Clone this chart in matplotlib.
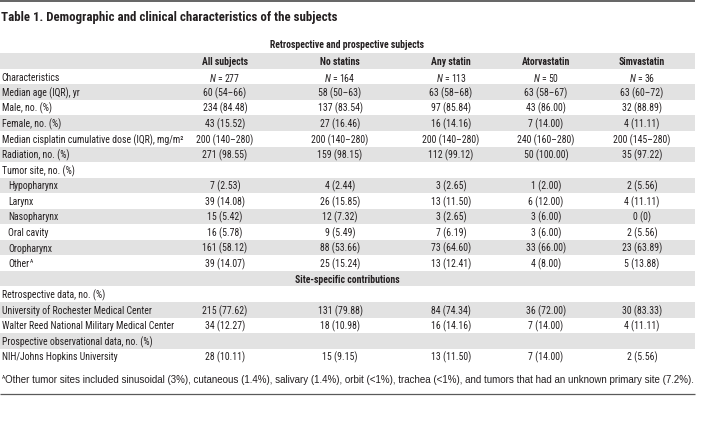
import matplotlib
matplotlib.use("Agg")
import matplotlib.pyplot as plt
from matplotlib import font_manager

# look for a condensed face; the table uses a narrow sans
entries = font_manager.fontManager.ttflist
names = {f.name for f in entries}
body_font, body_stretch, narrow = "Liberation Sans", "normal", False
for want in ["Liberation Sans Narrow", "Roboto Condensed", "Open Sans Condensed",
             "Noto Sans Condensed", "Arial Narrow", "DejaVu Sans Condensed"]:
    if want in names:
        body_font, narrow = want, True
        break
if not narrow:
    for f in entries:
        if f.name in ("Noto Sans", "Roboto", "Open Sans", "DejaVu Sans") and \
                f.stretch in ("condensed", "semi-condensed"):
            body_font, body_stretch, narrow = f.name, f.stretch, True
            break

body_size = 7.0 if narrow else 6.3
plt.rcParams["font.family"] = [body_font, "DejaVu Sans"]
plt.rcParams["font.stretch"] = body_stretch
plt.rcParams["mathtext.fontset"] = "custom"
plt.rcParams["mathtext.it"] = body_font + ":italic"
plt.rcParams["mathtext.rm"] = body_font

######## data ########
title = "Table 1. Demographic and clinical characteristics of the subjects"
group_header = "Retrospective and prospective subjects"
section_header = "Site-specific contributions"
columns = ["All subjects", "No statins", "Any statin", "Atorvastatin", "Simvastatin"]
n_values = [277, 164, 113, 50, 36]

row_labels = [
    "Characteristics",
    "Median age (IQR), yr",
    "Male, no. (%)",
    "Female, no. (%)",
    "Median cisplatin cumulative dose (IQR), mg/m\u00b2",
    "Radiation, no. (%)",
    "Tumor site, no. (%)",
    "Hypopharynx",
    "Larynx",
    "Nasopharynx",
    "Oral cavity",
    "Oropharynx",
    "Other",
    None,  # section header row
    "Retrospective data, no. (%)",
    "University of Rochester Medical Center",
    "Walter Reed National Military Medical Center",
    "Prospective observational data, no. (%)",
    "NIH/Johns Hopkins University",
]
indented = ["Hypopharynx", "Larynx", "Nasopharynx", "Oral cavity", "Oropharynx", "Other"]

median_age = ["60 (54\u201366)", "58 (50\u201363)", "63 (58\u201368)", "63 (58\u201367)", "63 (60\u201372)"]
male = ["234 (84.48)", "137 (83.54)", "97 (85.84)", "43 (86.00)", "32 (88.89)"]
female = ["43 (15.52)", "27 (16.46)", "16 (14.16)", "7 (14.00)", "4 (11.11)"]
cisplatin = ["200 (140\u2013280)", "200 (140\u2013280)", "200 (140\u2013280)", "240 (160\u2013280)", "200 (145\u2013280)"]
radiation = ["271 (98.55)", "159 (98.15)", "112 (99.12)", "50 (100.00)", "35 (97.22)"]
hypopharynx = ["7 (2.53)", "4 (2.44)", "3 (2.65)", "1 (2.00)", "2 (5.56)"]
larynx = ["39 (14.08)", "26 (15.85)", "13 (11.50)", "6 (12.00)", "4 (11.11)"]
nasopharynx = ["15 (5.42)", "12 (7.32)", "3 (2.65)", "3 (6.00)", "0 (0)"]
oral_cavity = ["16 (5.78)", "9 (5.49)", "7 (6.19)", "3 (6.00)", "2 (5.56)"]
oropharynx = ["161 (58.12)", "88 (53.66)", "73 (64.60)", "33 (66.00)", "23 (63.89)"]
other = ["39 (14.07)", "25 (15.24)", "13 (12.41)", "4 (8.00)", "5 (13.88)"]
rochester = ["215 (77.62)", "131 (79.88)", "84 (74.34)", "36 (72.00)", "30 (83.33)"]
walter_reed = ["34 (12.27)", "18 (10.98)", "16 (14.16)", "7 (14.00)", "4 (11.11)"]
nih = ["28 (10.11)", "15 (9.15)", "13 (11.50)", "7 (14.00)", "2 (5.56)"]

footnote = ("Other tumor sites included sinusoidal (3%), cutaneous (1.4%), salivary (1.4%), "
            "orbit (<1%), trachea (<1%), and tumors that had an unknown primary site (7.2%).")

blank = [""] * 5
n_row = ["$N$ = %d" % n for n in n_values]
row_values = [n_row, median_age, male, female, cisplatin, radiation, blank,
              hypopharynx, larynx, nasopharynx, oral_cavity, oropharynx, other,
              blank, blank, rochester, walter_reed, blank, nih]

######## layout ########
col_x = [225, 340, 451, 546, 642]
label_x = 1.5
indent_x = 8
y0 = 62
pitch = 15.55
right = 695
text_color = "#231f20"
shade = "#e2e2e2"

fig = plt.figure(figsize=(7.03, 4.39), dpi=100)
ax = fig.add_axes([0, 0, 1, 1])
ax.set_xlim(0, 703)
ax.set_ylim(439, 0)
ax.axis("off")

# rules
ax.plot([0, right], [2, 2], color="#4a4a4a", lw=1.2, solid_capstyle="butt")
ax.plot([0, right], [395, 395], color="#5a5a5a", lw=0.9, solid_capstyle="butt")

ax.text(1, 17, title, fontsize=body_size * 1.32, fontweight="bold", color=text_color,
        ha="left", va="center")
ax.text(347, 45, group_header, fontsize=body_size, fontweight="bold", color=text_color,
        ha="center", va="center")

# header row (row 0)
ax.axhspan(y0 - pitch / 2, y0 + pitch / 2, xmin=0, xmax=right / 703, color=shade, lw=0)
for cx, c in zip(col_x, columns):
    ax.text(cx, y0, c, fontsize=body_size, fontweight="bold", color=text_color,
            ha="center", va="center")

for i, (lab, vals) in enumerate(zip(row_labels, row_values), start=1):
    y = y0 + pitch * i
    if i % 2 == 0:
        ax.axhspan(y - pitch / 2, y + pitch / 2, xmin=0, xmax=right / 703, color=shade, lw=0)
    if lab is None:
        ax.text(347, y, section_header, fontsize=body_size, fontweight="bold",
                color=text_color, ha="center", va="center")
        continue
    x = indent_x if lab in indented else label_x
    t = ax.text(x, y, lab, fontsize=body_size, color=text_color, ha="left", va="center")
    if lab == "Other":
        ax.annotate("A", xy=(1, 1), xycoords=t, xytext=(0.5, 0), textcoords="offset points",
                    fontsize=body_size * 0.55, color=text_color, ha="left", va="top")
    for cx, v in zip(col_x, vals):
        ax.text(cx, y, v, fontsize=body_size, color=text_color, ha="center", va="center")

fn = ax.text(5, 380, footnote, fontsize=7.0, color=text_color, family="Liberation Sans",
             stretch="normal", ha="left", va="center")
ax.annotate("A", xy=(0, 1), xycoords=fn, xytext=(-0.3, 0), textcoords="offset points",
            fontsize=body_size * 0.55, color=text_color, ha="right", va="top")

fig.savefig("out.png", dpi=100)
